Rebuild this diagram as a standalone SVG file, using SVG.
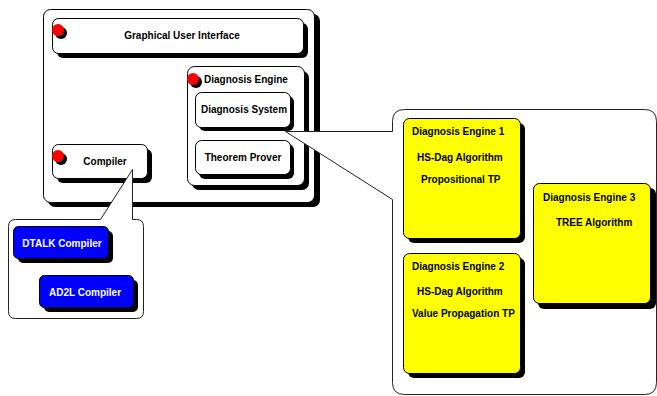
<svg xmlns="http://www.w3.org/2000/svg" width="657" height="396" viewBox="0 0 657 396">
<style>
.sh{fill:#000}
.wb{fill:#fff;stroke:#000;stroke-width:1}
.yb{fill:#ffff00;stroke:#000;stroke-width:1}
.bb{fill:#0000ff;stroke:#000;stroke-width:1}
.co{fill:#fff;stroke:#222;stroke-width:1}
.t{font-family:"Liberation Sans",Arial,sans-serif;font-weight:bold;font-size:10px;fill:#000}
.tw{font-family:"Liberation Sans",Arial,sans-serif;font-weight:bold;font-size:10px;fill:#fff}
.c{text-anchor:middle}
.dot{fill:#ff0000}
</style>
<rect width="657" height="396" fill="#fff"/>
<g id="main">
<rect class="sh" x="48" y="14" width="272" height="193" rx="7"/>
<rect class="wb" x="43.5" y="9.5" width="271" height="193" rx="7"/>
</g>
<g id="gui">
<rect class="sh" x="57" y="23" width="251" height="35" rx="6"/>
<rect class="wb" x="52.5" y="18.5" width="251" height="35" rx="6"/>
<circle class="sh" cx="61" cy="33" r="6"/>
<circle class="dot" cx="58" cy="30" r="6"/>
<text class="t c" x="182" y="39">Graphical User Interface</text>
</g>
<g id="diagnosis-engine">
<rect class="sh" x="192" y="71" width="117" height="119" rx="7"/>
<rect class="wb" x="187.5" y="66.5" width="117" height="119" rx="7"/>
<circle class="sh" cx="196" cy="82" r="6"/>
<circle class="dot" cx="193" cy="79" r="6"/>
<text class="t" x="204" y="83">Diagnosis Engine</text>
</g>
<g id="diagnosis-system">
<rect class="sh" x="199" y="96" width="95" height="35" rx="6"/>
<rect class="wb" x="195.5" y="92.5" width="95" height="35" rx="6"/>
<text class="t c" x="244" y="113">Diagnosis System</text>
</g>
<g id="theorem-prover">
<rect class="sh" x="199" y="144" width="95" height="35" rx="6"/>
<rect class="wb" x="195.5" y="140.5" width="95" height="34" rx="6"/>
<text class="t c" x="243" y="161">Theorem Prover</text>
</g>
<g id="compiler">
<rect class="sh" x="57" y="149" width="95" height="34" rx="6"/>
<rect class="wb" x="52.5" y="144.5" width="95" height="34" rx="6"/>
<circle class="sh" cx="61" cy="159" r="6"/>
<circle class="dot" cx="58" cy="156" r="6"/>
<text class="t c" x="105" y="165">Compiler</text>
</g>
<g id="connectors">
<path class="co" d="M15.5,219.5 H100.5 L132.5,169.5 V219.5 H136.5 Q143.5,219.5 143.5,226.5 V311.5 Q143.5,318.5 136.5,318.5 H15.5 Q8.5,318.5 8.5,311.5 V226.5 Q8.5,219.5 15.5,219.5 Z"/>
<path class="co" d="M404.5,109.5 H644.5 Q656.5,109.5 656.5,121.5 V382.5 Q656.5,394.5 644.5,394.5 H404.5 Q392.5,394.5 392.5,382.5 V199.5 L285.5,131.5 L392.5,131.5 V121.5 Q392.5,109.5 404.5,109.5 Z"/>
</g>
<g id="dtalk-compiler">
<rect class="sh" x="18" y="231" width="95" height="32" rx="5"/>
<rect class="bb" x="13.5" y="226.5" width="95" height="32" rx="5"/>
<text class="tw c" x="62" y="247">DTALK Compiler</text>
</g>
<g id="ad2l-compiler">
<rect class="sh" x="44" y="280" width="94" height="32" rx="5"/>
<rect class="bb" x="39.5" y="275.5" width="94" height="32" rx="5"/>
<text class="tw c" x="85" y="296">AD2L Compiler</text>
</g>
<g id="engine-1">
<rect class="sh" x="408" y="123" width="117" height="120" rx="6"/>
<rect class="yb" x="403.5" y="118.5" width="117" height="120" rx="6"/>
<text class="t" x="412" y="135">Diagnosis Engine 1</text>
<text class="t" x="417" y="161">HS-Dag Algorithm</text>
<text class="t" x="421" y="183">Propositional TP</text>
</g>
<g id="engine-2">
<rect class="sh" x="408" y="258" width="117" height="120" rx="6"/>
<rect class="yb" x="403.5" y="253.5" width="117" height="120" rx="6"/>
<text class="t" x="412" y="270">Diagnosis Engine 2</text>
<text class="t" x="417" y="295">HS-Dag Algorithm</text>
<text class="t" x="412" y="317">Value Propagation TP</text>
</g>
<g id="engine-3">
<rect class="sh" x="538" y="188" width="118" height="121" rx="6"/>
<rect class="yb" x="533.5" y="183.5" width="117" height="120" rx="6"/>
<text class="t" x="543" y="201">Diagnosis Engine 3</text>
<text class="t" x="556" y="226">TREE Algorithm</text>
</g>
</svg>
